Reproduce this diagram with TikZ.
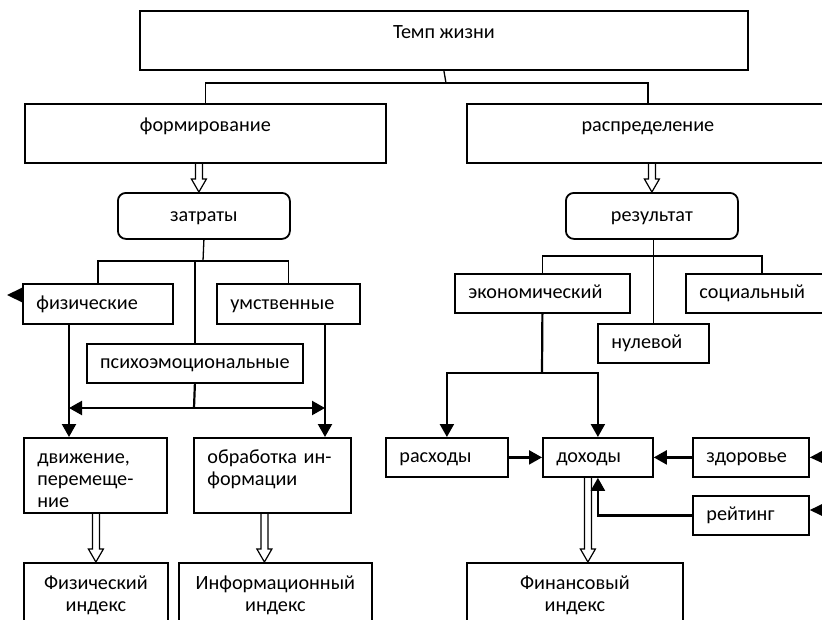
\documentclass[tikz,border=0pt]{standalone}
\usepackage{fontspec}
\setmainfont{Carlito}
\usepackage{tikz}
\usetikzlibrary{positioning,calc,arrows.meta}

\newcommand{\hollowarrow}[2]{%
  \draw[line width=1.2pt] let \p1=#1, \p2=#2 in
    (\x2-3.5pt,\y1) -- (\x2-3.5pt,\y2+13pt) -- (\x2-7.5pt,\y2+13pt) -- (\x2,\y2)
    -- (\x2+7.5pt,\y2+13pt) -- (\x2+3.5pt,\y2+13pt) -- (\x2+3.5pt,\y1);}

\begin{document}
\begin{tikzpicture}[x=1pt,y=-1pt,
    box/.style={draw, line width=1.8pt, rectangle, anchor=north west, inner sep=0pt,
      font=\fontsize{20.2}{22}\selectfont, text height=15pt, text depth=4pt},
    cbox/.style={box, align=center},
    lbox/.style={box, align=left, inner xsep=13.5pt},
    rbox/.style={box, align=center, rounded corners=8pt},
    tline/.style={line width=1.3pt},
    arr/.style={line width=2.2pt, -{Triangle[width=14pt,length=13pt]}},
    tip/.style={line width=2.2pt, -{Triangle[width=14pt,length=15pt]}},
    twoarr/.style={line width=2.2pt, {Triangle[width=14pt,length=13pt]}-{Triangle[width=14pt,length=13pt]}}]
    \useasboundingbox (0,0) rectangle (822,619);
    \clip (0,0) rectangle (822,619);

    \node[cbox, minimum width=608pt, minimum height=59pt, text depth=19pt] (tempo) at (139,10) {Темп жизни};
    \node[cbox, minimum width=361pt, minimum height=59pt, text depth=19pt] (form) at (24,103) {формирование};
    \node[cbox, minimum width=362pt, minimum height=59pt, text depth=19pt] (distr) at (466,103) {распределение};
    \node[rbox, minimum width=172pt, minimum height=46pt] (zatr) at (117,192) {затраты};
    \node[rbox, minimum width=172pt, minimum height=46pt] (rezult) at (565,192) {результат};

    % costs
    \node[lbox, text width=123pt, minimum height=40pt] (fiz) at (22,283) {физические};
    \node[lbox, text width=116pt, minimum height=40pt] (umst) at (216,283) {умственные};
    \node[cbox, minimum width=216pt, minimum height=39pt] (psy) at (86,343) {психоэмоциональные};
    \node[lbox, text width=116pt, minimum height=75pt, text depth=38pt] (dvizh) at (23,437)
      {\baselineskip=22pt движение,\\перемеще-\\ние};
    \node[lbox, text width=130pt, minimum height=75pt, text depth=38pt] (obrab) at (193,437)
      {\baselineskip=22pt обработка ин-\\формации};
    \node[cbox, text width=144pt, minimum height=80pt, text depth=41pt] (fizind) at (23,562)
      {\baselineskip=22pt Физический\\индекс};
    \node[cbox, text width=193pt, minimum height=80pt, text depth=41pt] (infind) at (178,562)
      {\baselineskip=22pt Информационный\\индекс};

    % result
    \node[lbox, text width=148pt, minimum height=39pt] (ekon) at (454,273) {экономический};
    \node[lbox, text width=125pt, minimum height=39pt] (soc) at (685,273) {социальный};
    \node[lbox, text width=84pt, minimum height=39pt] (nul) at (597,323) {нулевой};
    \node[lbox, text width=95pt, minimum height=39pt] (rash) at (385,437) {расходы};
    \node[lbox, text width=83pt, minimum height=39pt] (dohod) at (542,437) {доходы};
    \node[lbox, text width=89pt, minimum height=39pt] (zdor) at (692,437) {здоровье};
    \node[lbox, text width=89pt, minimum height=39pt] (reit) at (692,495) {рейтинг};
    \node[cbox, text width=216pt, minimum height=80pt, text depth=41pt] (finind) at (466,562)
      {\baselineskip=22pt Финансовый\\индекс};

    \coordinate (tj) at (446,83);
    \coordinate (zj) at (203,261);
    \coordinate (rj) at (651,256);
    \coordinate (jl) at (69,408);
    \coordinate (jm) at (194,408);
    \coordinate (jr) at (325,408);
    \coordinate (ej) at (542,373);

    % tree lines
    \draw[tline] (tempo.south) -- (tj);
    \draw[tline] (form.north) |- (tj) -| (distr.north);
    \draw[tline] (zatr.south) -- (zj);
    \draw[tline] (fiz.north) |- (zj) -| (umst.north);
    \draw[tline] (psy.north) -- (psy.north |- zj);
    \draw[tline] (ekon.north) |- (rj) -| (soc.north);
    \draw[line width=1.8pt] (nul.north |- rezult.south) -- (nul.north);

    % hollow arrows
    \coordinate (za) at ([xshift=-5pt]zatr.north);
    \coordinate (oa) at ([xshift=-8pt]obrab.south);
    \coordinate (fa) at ([xshift=-10pt]dohod.south);
    \hollowarrow{(za |- form.south)}{(za)}
    \hollowarrow{(rezult.north |- distr.south)}{(rezult.north)}
    \hollowarrow{(dvizh.south)}{(fizind.north)}
    \hollowarrow{(oa)}{(oa |- infind.north)}
    \hollowarrow{(fa)}{(fa |- finind.north)}

    % arrows
    \draw[arr] (fiz.south -| jl) -- (dvizh.north -| jl);
    \draw[arr] (umst.south -| jr) -- (obrab.north -| jr);
    \draw[line width=2.2pt] (psy.south) -- (jm);
    \draw[twoarr] (jl) -- (jr);
    \draw[line width=2.2pt] (ekon.south) -- (ej);
    \draw[arr] (ej) -| (rash.north);
    \draw[arr] (ej) -| (dohod.north);
    \draw[arr] (rash) -- (dohod);
    \draw[arr] (zdor) -- (dohod);
    \draw[arr] (reit.west) -| (dohod.south);

    \coordinate (s1) at (7,295);
    \coordinate (s2) at (823,457);
    \coordinate (s3) at (823,510);
    \draw[tip] (fiz.west |- s1) -- (s1);
    \draw[tip] (s2) -- (zdor.east);
    \draw[tip] (s3) -- (reit.east |- s3);
\end{tikzpicture}
\end{document}
